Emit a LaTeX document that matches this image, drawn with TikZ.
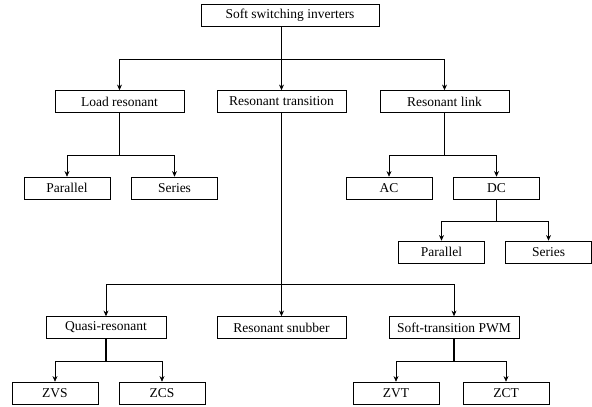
\documentclass[tikz,border=0pt]{standalone}
\usepackage{fontspec}
\setmainfont{Liberation Serif}
\usetikzlibrary{arrows.meta}
\tikzset{
    box/.style={
        draw, thin, inner sep=0pt,
        minimum height=0.55cm,
        font=\fontsize{9.6}{11}\selectfont
    },
    small/.style={box, minimum width=2.15cm},
    wide/.style={box, minimum width=3.225cm},
    drop/.style={line width=0.9pt},
    arr/.style={line width=0.5pt, -{Stealth[length=4pt,width=3.5pt]}}
}
\begin{document}
\begin{tikzpicture}[x=0.025cm, y=-0.025cm]
    \useasboundingbox (0,0) rectangle (592,407);
    % levels of the tree
    \node[box, minimum width=4.45cm] (top) at (290,15.5) {Soft switching inverters};
    \node[wide] (load) at (119.5,101.5) {Load resonant};
    \node[wide] (rtrans) at (281.5,101.5) {Resonant transition};
    \node[wide] (rlink) at (444.5,101.5) {Resonant link};
    \node[small] (par) at (67,188) {Parallel};
    \node[small] (ser) at (174.5,188) {Series};
    \node[small] (ac) at (389,188) {AC};
    \node[small] (dc) at (496.5,188) {DC};
    \node[small] (dcpar) at (441.5,252) {Parallel};
    \node[small] (dcser) at (548.5,252) {Series};
    \node[box, minimum width=3cm] (quasi) at (106,327.5) {Quasi-resonant};
    \node[wide] (snub) at (281.5,327.5) {Resonant snubber};
    \node[box, minimum width=3.25cm] (pwm) at (454,327.5) {Soft-transition PWM};
    \node[small] (zvs) at (55,393) {ZVS};
    \node[small] (zcs) at (162,393) {ZCS};
    \node[small] (zvt) at (396,393) {ZVT};
    \node[small] (zct) at (506,393) {ZCT};
    % branch heights
    \coordinate (b1) at (0,59);
    \coordinate (b2) at (0,155);
    \coordinate (b3) at (0,221);
    \coordinate (b4) at (0,284);
    \coordinate (b5) at (0,361);
    % connectors
    \draw[drop] (top.south -| rtrans.north) -- (rtrans.north |- b1);
    \foreach \c in {load,rtrans,rlink}
        \draw[arr] (rtrans.north |- b1) -| (\c.north);
    \draw[drop] (load.south) -- (load.south |- b2);
    \foreach \c in {par,ser}
        \draw[arr] (load.south |- b2) -| (\c.north);
    \draw[drop] (rlink.south) -- (rlink.south |- b2);
    \foreach \c in {ac,dc}
        \draw[arr] (rlink.south |- b2) -| (\c.north);
    \draw[drop] (dc.south) -- (dc.south |- b3);
    \foreach \c in {dcpar,dcser}
        \draw[arr] (dc.south |- b3) -| (\c.north);
    \draw[drop] (rtrans.south) -- (rtrans.south |- b4);
    \foreach \c in {quasi,snub,pwm}
        \draw[arr] (rtrans.south |- b4) -| (\c.north);
    \draw[drop] (quasi.south) -- (quasi.south |- b5);
    \foreach \c in {zvs,zcs}
        \draw[arr] (quasi.south |- b5) -| (\c.north);
    \draw[drop] (pwm.south) -- (pwm.south |- b5);
    \foreach \c in {zvt,zct}
        \draw[arr] (pwm.south |- b5) -| (\c.north);
\end{tikzpicture}
\end{document}
